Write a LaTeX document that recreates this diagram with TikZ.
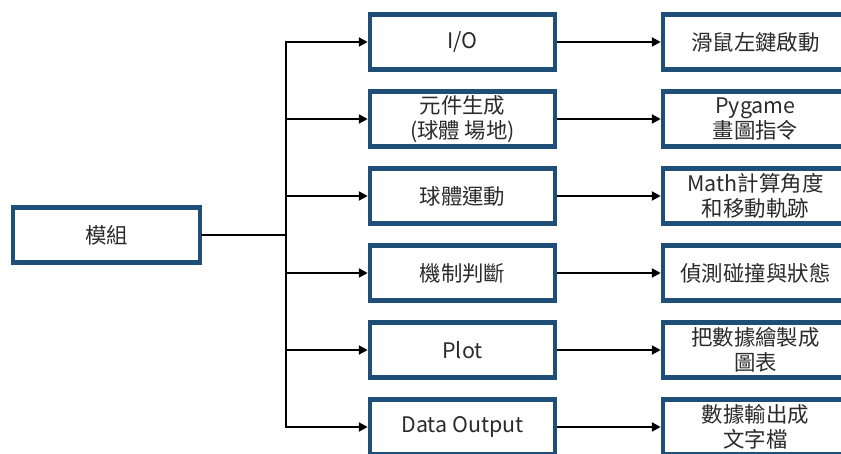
\documentclass[tikz,border=0pt]{standalone}
\usepackage{fontspec}
\setmainfont{Noto Sans CJK TC}
\usetikzlibrary{arrows.meta}
\definecolor{boxblue}{HTML}{1F4E79}
\definecolor{textgray}{HTML}{2B2B2B}
\begin{document}
\begin{tikzpicture}[x=1bp,y=-1bp,
  box/.style={draw=boxblue, line width=4.5bp, fill=white, minimum width=185bp,
    minimum height=55bp, inner sep=0pt, align=center,
    font=\fontsize{21.5}{25}\selectfont, text=textgray},
  conn/.style={line width=2.2bp, draw=black, line cap=rect},
  arr/.style={line width=2.2bp, draw=black, -{Triangle[length=9bp,width=9bp]}}]
\useasboundingbox (0,0) rectangle (841,454);
\clip (0,0) rectangle (841,454);
\node[box, minimum width=187bp] (m) at (106.5,235) {模組};
\node[box] (a1) at (462.5,42) {I/O};
\node[box] (a2) at (462.5,119) {元件生成\\(球體 場地)};
\node[box] (a3) at (462.5,196) {球體運動};
\node[box] (a4) at (462.5,273) {機制判斷};
\node[box] (a5) at (462.5,350) {Plot};
\node[box] (a6) at (462.5,427) {Data Output};
\node[box] (b1) at (755.5,42) {滑鼠左鍵啟動};
\node[box] (b2) at (755.5,119) {Pygame\\畫圖指令};
\node[box] (b3) at (755.5,196) {Math計算角度\\和移動軌跡};
\node[box] (b4) at (755.5,273) {偵測碰撞與狀態};
\node[box] (b5) at (755.5,350) {把數據繪製成\\圖表};
\node[box] (b6) at (755.5,427) {數據輸出成\\文字檔};
\coordinate (t) at (286,235);
\coordinate (t1) at (286,42);
\coordinate (t6) at (286,427);
\draw[conn] (m.east) -- (t);
\draw[conn] (t1) -- (t6);
\foreach \i in {1,...,6} {
  \draw[arr] (t |- a\i.west) -- (a\i.west);
  \draw[arr] (a\i.east) -- (b\i.west);
}
\end{tikzpicture}
\end{document}
